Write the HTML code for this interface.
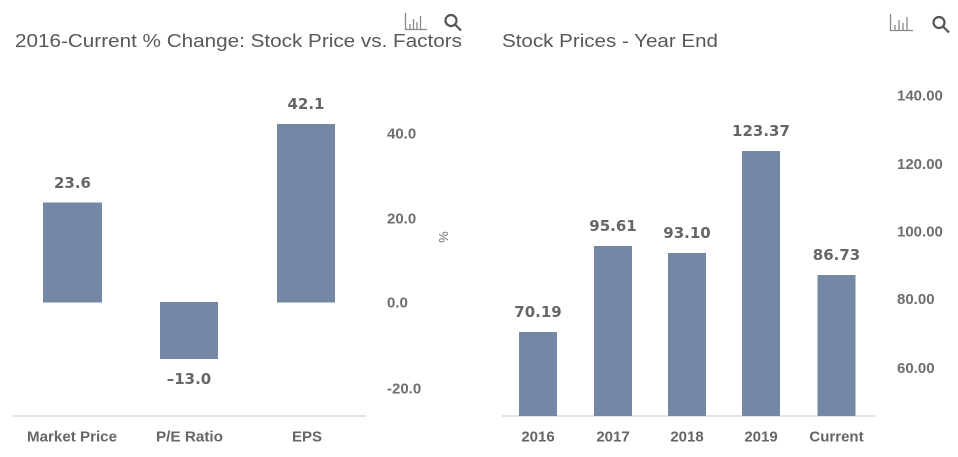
<!DOCTYPE html>
<html><head><meta charset="utf-8">
<style>
html,body{margin:0;padding:0;background:#fff;}
svg{display:block;}
.t{font-family:"Liberation Sans",Arial,sans-serif;font-size:18px;fill:#585858;}
.v{font-family:"DejaVu Sans",Verdana,sans-serif;font-weight:bold;font-size:15px;fill:#666;}
.k{font-family:"Liberation Sans",Arial,sans-serif;font-weight:bold;font-size:15px;fill:#6e6e6e;}
.c{font-family:"Liberation Sans",Arial,sans-serif;font-weight:bold;font-size:15px;fill:#666;}
</style></head>
<body>
<svg width="958" height="457" viewBox="0 0 958 457" xmlns="http://www.w3.org/2000/svg">
<rect width="958" height="457" fill="#fff"/>
<!-- Titles -->
<text class="t" x="15" y="47" textLength="447" lengthAdjust="spacingAndGlyphs">2016-Current % Change: Stock Price vs. Factors</text>
<text class="t" x="502" y="47" textLength="216" lengthAdjust="spacingAndGlyphs">Stock Prices - Year End</text>

<!-- Icons left -->
<g stroke="#8a8a8a" stroke-width="1.3" fill="none">
<path d="M405.5 13 V29.5 H427"/>
<path d="M410 29 V24 M413.5 29 V19 M417 29 V22 M420.5 29 V16"/>
</g>
<g stroke="#555" stroke-width="2.2" fill="none">
<circle cx="451" cy="20.5" r="5.5"/>
<path d="M455 24.5 L461 30.5"/>
</g>
<!-- Icons right -->
<g stroke="#8a8a8a" stroke-width="1.3" fill="none">
<path d="M890.5 14 V30.5 H913"/>
<path d="M895 30 V25 M899 30 V20 M903 30 V23 M907 30 V17"/>
</g>
<g stroke="#555" stroke-width="2.2" fill="none">
<circle cx="939" cy="22.5" r="5.5"/>
<path d="M943 26.5 L949 32.5"/>
</g>

<!-- Left chart -->
<line x1="13" y1="416" x2="366" y2="416" stroke="#d4d4d4" stroke-width="1.2"/>
<rect x="43" y="202.5" width="59" height="100" fill="#7487a4"/>
<rect x="160" y="302" width="58" height="57" fill="#7487a4"/>
<rect x="277" y="124" width="58" height="178.5" fill="#7487a4"/>
<text class="v" x="72.5" y="188" text-anchor="middle">23.6</text>
<text class="v" x="189" y="384" text-anchor="middle">–13.0</text>
<text class="v" x="306" y="109" text-anchor="middle">42.1</text>
<text class="k" x="387" y="138.5">40.0</text>
<text class="k" x="387" y="223.5">20.0</text>
<text class="k" x="387" y="307.5">0.0</text>
<text class="k" x="387" y="393.5">-20.0</text>
<text class="k" x="0" y="0" transform="translate(439,237) rotate(90)" text-anchor="middle" style="font-size:13px;font-weight:normal">%</text>
<text class="c" x="72" y="441.5" text-anchor="middle" textLength="90" lengthAdjust="spacingAndGlyphs">Market Price</text>
<text class="c" x="189.5" y="441.5" text-anchor="middle" textLength="67" lengthAdjust="spacingAndGlyphs">P/E Ratio</text>
<text class="c" x="307" y="441.5" text-anchor="middle">EPS</text>

<!-- Right chart -->
<line x1="502" y1="416" x2="875" y2="416" stroke="#d4d4d4" stroke-width="1.2"/>
<rect x="519" y="332" width="38" height="84" fill="#7487a4"/>
<rect x="594" y="246" width="38" height="170" fill="#7487a4"/>
<rect x="668" y="253" width="38" height="163" fill="#7487a4"/>
<rect x="742" y="151" width="38" height="265" fill="#7487a4"/>
<rect x="817.5" y="275" width="38" height="141" fill="#7487a4"/>
<text class="v" x="538" y="317" text-anchor="middle">70.19</text>
<text class="v" x="613" y="231" text-anchor="middle">95.61</text>
<text class="v" x="687" y="238" text-anchor="middle">93.10</text>
<text class="v" x="761" y="136" text-anchor="middle">123.37</text>
<text class="v" x="836.5" y="260" text-anchor="middle">86.73</text>
<text class="k" x="897" y="100.5">140.00</text>
<text class="k" x="897" y="169">120.00</text>
<text class="k" x="897" y="236.5">100.00</text>
<text class="k" x="897" y="304">80.00</text>
<text class="k" x="897" y="373">60.00</text>
<text class="c" x="538" y="441.5" text-anchor="middle">2016</text>
<text class="c" x="613" y="441.5" text-anchor="middle">2017</text>
<text class="c" x="687" y="441.5" text-anchor="middle">2018</text>
<text class="c" x="761" y="441.5" text-anchor="middle">2019</text>
<text class="c" x="836.5" y="441.5" text-anchor="middle">Current</text>
</svg>
</body></html>
